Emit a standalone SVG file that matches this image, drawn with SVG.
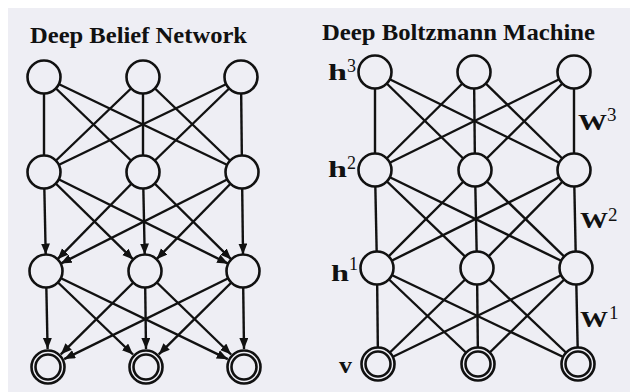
<svg xmlns="http://www.w3.org/2000/svg" width="630" height="392" viewBox="0 0 630 392">
<style>
.bg{fill:#eeeef4}
.e{stroke:#111;stroke-width:2.4;fill:none}
.n{fill:#eeeef4;stroke:#111;stroke-width:2.6}
.t{font-family:"Liberation Serif","Times New Roman",serif;font-weight:bold;fill:#111}
.s{font-family:"Liberation Serif","Times New Roman",serif;fill:#111}
</style>
<defs>
<marker id="ah" markerUnits="userSpaceOnUse" markerWidth="12" markerHeight="10" refX="11" refY="4.5" orient="auto">
<path d="M0,0 L11,4.5 L0,9 z" fill="#111"/>
</marker>
</defs>
<rect width="630" height="392" fill="#ffffff"/>
<rect class="bg" x="8" y="8" width="622" height="384"/>
<text class="t" x="30" y="43" font-size="24" textLength="217" lengthAdjust="spacingAndGlyphs">Deep Belief Network</text>
<text class="t" x="322" y="40" font-size="24" textLength="273" lengthAdjust="spacingAndGlyphs">Deep Boltzmann Machine</text>
<g id="connectors">
<g id="dbn-edges">
<line class="e" x1="44" y1="77" x2="44" y2="172"/>
<line class="e" x1="44" y1="77" x2="143" y2="172"/>
<line class="e" x1="44" y1="77" x2="242" y2="172"/>
<line class="e" x1="143" y1="77" x2="44" y2="172"/>
<line class="e" x1="143" y1="77" x2="143" y2="172"/>
<line class="e" x1="143" y1="77" x2="242" y2="172"/>
<line class="e" x1="241" y1="77" x2="44" y2="172"/>
<line class="e" x1="241" y1="77" x2="143" y2="172"/>
<line class="e" x1="241" y1="77" x2="242" y2="172"/>
<line class="e" x1="44" y1="172" x2="45.7" y2="254.5" marker-end="url(#ah)"/>
<line class="e" x1="44" y1="172" x2="133.2" y2="259.45" marker-end="url(#ah)"/>
<line class="e" x1="44" y1="172" x2="228.2" y2="263.65" marker-end="url(#ah)"/>
<line class="e" x1="143" y1="172" x2="57.55" y2="259.2" marker-end="url(#ah)"/>
<line class="e" x1="143" y1="172" x2="144.7" y2="254.5" marker-end="url(#ah)"/>
<line class="e" x1="143" y1="172" x2="231.3" y2="259.4" marker-end="url(#ah)"/>
<line class="e" x1="242" y1="172" x2="60.7" y2="263.6" marker-end="url(#ah)"/>
<line class="e" x1="242" y1="172" x2="156.55" y2="259.2" marker-end="url(#ah)"/>
<line class="e" x1="242" y1="172" x2="243" y2="254.5" marker-end="url(#ah)"/>
<line class="e" x1="46" y1="271" x2="47.6" y2="349" marker-end="url(#ah)"/>
<line class="e" x1="46" y1="271" x2="133" y2="354.5" marker-end="url(#ah)"/>
<line class="e" x1="46" y1="271" x2="227.8" y2="359.15" marker-end="url(#ah)"/>
<line class="e" x1="145" y1="271" x2="60.8" y2="354.3" marker-end="url(#ah)"/>
<line class="e" x1="145" y1="271" x2="146" y2="349" marker-end="url(#ah)"/>
<line class="e" x1="145" y1="271" x2="231.1" y2="354.5" marker-end="url(#ah)"/>
<line class="e" x1="243" y1="271" x2="64.15" y2="359.05" marker-end="url(#ah)"/>
<line class="e" x1="243" y1="271" x2="158.8" y2="354.3" marker-end="url(#ah)"/>
<line class="e" x1="243" y1="271" x2="244" y2="349" marker-end="url(#ah)"/>
</g>
<g id="dbm-edges">
<line class="e" x1="375" y1="72" x2="375" y2="170"/>
<line class="e" x1="375" y1="72" x2="475" y2="170"/>
<line class="e" x1="375" y1="72" x2="574" y2="170"/>
<line class="e" x1="474" y1="72" x2="375" y2="170"/>
<line class="e" x1="474" y1="72" x2="475" y2="170"/>
<line class="e" x1="474" y1="72" x2="574" y2="170"/>
<line class="e" x1="574" y1="72" x2="375" y2="170"/>
<line class="e" x1="574" y1="72" x2="475" y2="170"/>
<line class="e" x1="574" y1="72" x2="574" y2="170"/>
<line class="e" x1="375" y1="170" x2="377" y2="268"/>
<line class="e" x1="375" y1="170" x2="477" y2="268"/>
<line class="e" x1="375" y1="170" x2="576" y2="268"/>
<line class="e" x1="475" y1="170" x2="377" y2="268"/>
<line class="e" x1="475" y1="170" x2="477" y2="268"/>
<line class="e" x1="475" y1="170" x2="576" y2="268"/>
<line class="e" x1="574" y1="170" x2="377" y2="268"/>
<line class="e" x1="574" y1="170" x2="477" y2="268"/>
<line class="e" x1="574" y1="170" x2="576" y2="268"/>
<line class="e" x1="377" y1="268" x2="378" y2="364"/>
<line class="e" x1="377" y1="268" x2="478" y2="364"/>
<line class="e" x1="377" y1="268" x2="578" y2="364"/>
<line class="e" x1="477" y1="268" x2="378" y2="364"/>
<line class="e" x1="477" y1="268" x2="478" y2="364"/>
<line class="e" x1="477" y1="268" x2="578" y2="364"/>
<line class="e" x1="576" y1="268" x2="378" y2="364"/>
<line class="e" x1="576" y1="268" x2="478" y2="364"/>
<line class="e" x1="576" y1="268" x2="578" y2="364"/>
</g>
</g>
<g id="dbn-nodes">
<g id="dbn-h3a"><circle class="n" cx="44" cy="77" r="16.5"/></g>
<g id="dbn-h3b"><circle class="n" cx="143" cy="77" r="16.5"/></g>
<g id="dbn-h3c"><circle class="n" cx="241" cy="77" r="16.5"/></g>
<g id="dbn-h2a"><circle class="n" cx="44" cy="172" r="16.5"/></g>
<g id="dbn-h2b"><circle class="n" cx="143" cy="172" r="16.5"/></g>
<g id="dbn-h2c"><circle class="n" cx="242" cy="172" r="16.5"/></g>
<g id="dbn-h1a"><circle class="n" cx="46" cy="271" r="16.5"/></g>
<g id="dbn-h1b"><circle class="n" cx="145" cy="271" r="16.5"/></g>
<g id="dbn-h1c"><circle class="n" cx="243" cy="271" r="16.5"/></g>
<g id="dbn-va"><circle class="n" cx="48" cy="367" r="16.5"/><circle class="n" cx="48" cy="367" r="12.5"/></g>
<g id="dbn-vb"><circle class="n" cx="146" cy="367" r="16.5"/><circle class="n" cx="146" cy="367" r="12.5"/></g>
<g id="dbn-vc"><circle class="n" cx="244" cy="367" r="16.5"/><circle class="n" cx="244" cy="367" r="12.5"/></g>
</g>
<g id="dbm-nodes">
<g id="dbm-h3a"><circle class="n" cx="375" cy="72" r="16.5"/></g>
<g id="dbm-h3b"><circle class="n" cx="474" cy="72" r="16.5"/></g>
<g id="dbm-h3c"><circle class="n" cx="574" cy="72" r="16.5"/></g>
<g id="dbm-h2a"><circle class="n" cx="375" cy="170" r="16.5"/></g>
<g id="dbm-h2b"><circle class="n" cx="475" cy="170" r="16.5"/></g>
<g id="dbm-h2c"><circle class="n" cx="574" cy="170" r="16.5"/></g>
<g id="dbm-h1a"><circle class="n" cx="377" cy="268" r="16.5"/></g>
<g id="dbm-h1b"><circle class="n" cx="477" cy="268" r="16.5"/></g>
<g id="dbm-h1c"><circle class="n" cx="576" cy="268" r="16.5"/></g>
<g id="dbm-va"><circle class="n" cx="378" cy="364" r="16.5"/><circle class="n" cx="378" cy="364" r="12.5"/></g>
<g id="dbm-vb"><circle class="n" cx="478" cy="364" r="16.5"/><circle class="n" cx="478" cy="364" r="12.5"/></g>
<g id="dbm-vc"><circle class="n" cx="578" cy="364" r="16.5"/><circle class="n" cx="578" cy="364" r="12.5"/></g>
</g>
<g id="labels">
<text class="t" x="328" y="80" font-size="24" textLength="19" lengthAdjust="spacingAndGlyphs">h</text>
<text class="s" x="347" y="72" font-size="18">3</text>
<text class="t" x="328" y="177" font-size="24" textLength="19" lengthAdjust="spacingAndGlyphs">h</text>
<text class="s" x="347" y="169" font-size="18">2</text>
<text class="t" x="331" y="281" font-size="24" textLength="18" lengthAdjust="spacingAndGlyphs">h</text>
<text class="s" x="349" y="270" font-size="18">1</text>
<text class="t" x="339" y="373" font-size="24" textLength="13" lengthAdjust="spacingAndGlyphs">v</text>
<text class="t" x="578" y="130" font-size="24" textLength="29" lengthAdjust="spacingAndGlyphs">W</text>
<text class="s" x="607" y="121" font-size="19">3</text>
<text class="t" x="580" y="228" font-size="24" textLength="28" lengthAdjust="spacingAndGlyphs">W</text>
<text class="s" x="608" y="221" font-size="19">2</text>
<text class="t" x="580" y="327" font-size="24" textLength="28" lengthAdjust="spacingAndGlyphs">W</text>
<text class="s" x="609" y="319" font-size="19">1</text>
</g>
</svg>
